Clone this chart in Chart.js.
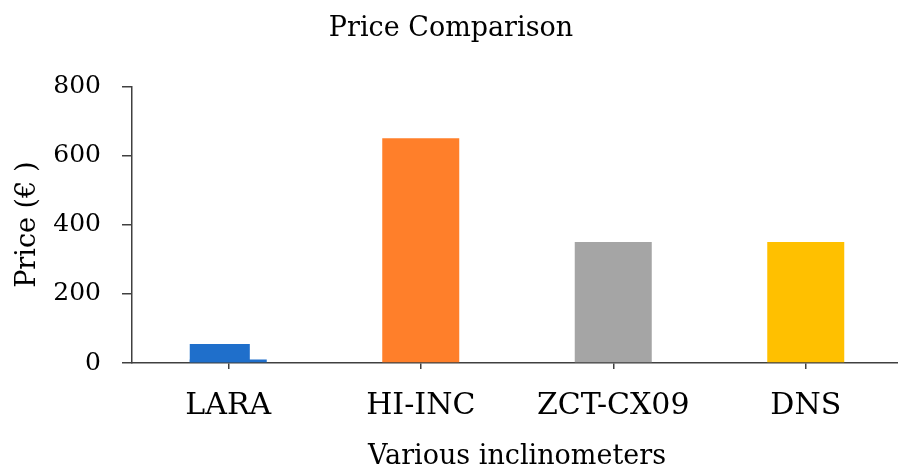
<!DOCTYPE html>
<html>
<head>
<meta charset="utf-8">
<script src="https://cdn.jsdelivr.net/npm/chart.js@4.4.1/dist/chart.umd.min.js"></script>
<style>
  html, body { margin: 0; padding: 0; background: #fff; overflow: hidden; }
  canvas { display: block; }
</style>
</head>
<body>
<!-- the original figure is cropped a few px on the right, so the canvas runs past the window -->
<canvas id="priceChart" width="902" height="470"></canvas>
<script>
'use strict';

// data
const categories = ['LARA', 'HI-INC', 'ZCT-CX09', 'DNS'];
const prices     = [55, 650, 350, 350];
const laraExtra  = [10, null, null, null];   // the small sliver beside LARA
const yTicks     = [0, 200, 400, 600, 800];

const barColors  = ['#1F6FCB', '#FF7F2A', '#A5A5A5', '#FFC000'];
const extraColor = '#1F6FCB';
const axisColor  = '#404040';
const FONT = 'DejaVu Serif';

// LARA's main bar is narrower and sits at the left of the wider sliver bar
const laraShare = 0.78;
const alignLara = {
  id: 'alignLara',
  afterDatasetsUpdate(chart) {
    const main = chart.getDatasetMeta(0).data[0];
    const extra = chart.getDatasetMeta(1).data[0];
    if (!main || !extra) return;
    const w = extra.width * laraShare;
    main.width = w;
    main.x = extra.x - extra.width / 2 + w / 2;
  },
};

const PriceChart = {
  init() {
    const ctx = document.getElementById('priceChart');
    new Chart(ctx, {
      type: 'bar',
      data: {
        labels: categories,
        datasets: [
          { label: 'Price', data: prices, backgroundColor: barColors, borderWidth: 0 },
          { label: 'Extra', data: laraExtra, backgroundColor: extraColor, borderWidth: 0 },
        ],
      },
      options: {
        responsive: false,
        animation: false,
        devicePixelRatio: 1,
        grouped: false,
        barPercentage: 0.8,
        categoryPercentage: 0.5,
        layout: { padding: 0 },
        plugins: {
          legend: { display: false },
          tooltip: { enabled: false },
          title: {
            display: true,
            text: 'Price Comparison',
            color: '#000',
            font: { family: FONT, size: 27, weight: 'normal', lineHeight: 1.2 },
            padding: { top: 13, bottom: 41 },
          },
        },
        scales: {
          x: {
            offset: true,
            afterFit(scale) { scale.height = 107; },
            grid: { display: true, offset: false, drawOnChartArea: false, drawTicks: true, tickLength: 6, color: axisColor, lineWidth: 1.5 },
            border: { display: true, color: axisColor, width: 1.5 },
            ticks: { color: '#000', padding: 19, font: { family: FONT, size: 30 } },
            title: {
              display: true,
              text: 'Various inclinometers',
              color: '#000',
              font: { family: FONT, size: 27, lineHeight: 1 },
              padding: { top: 0, bottom: 0 },
            },
          },
          y: {
            min: yTicks[0],
            max: yTicks[yTicks.length - 1],
            afterFit(scale) { scale.width = 132; },
            afterBuildTicks(scale) { scale.ticks = yTicks.map(v => ({ value: v })); },
            grid: { display: true, drawOnChartArea: false, drawTicks: true, tickLength: 10, color: axisColor, lineWidth: 1.5 },
            border: { display: true, color: axisColor, width: 1.5 },
            ticks: { color: '#000', padding: 21, font: { family: FONT, size: 25 } },
            title: {
              display: true,
              text: 'Price (€ )',
              color: '#000',
              font: { family: FONT, size: 27, lineHeight: 1 },
              padding: { top: 14, bottom: 0 },
            },
          },
        },
      },
      plugins: [alignLara],
    });
  },
};

document.addEventListener('DOMContentLoaded', () => PriceChart.init());
</script>
</body>
</html>
